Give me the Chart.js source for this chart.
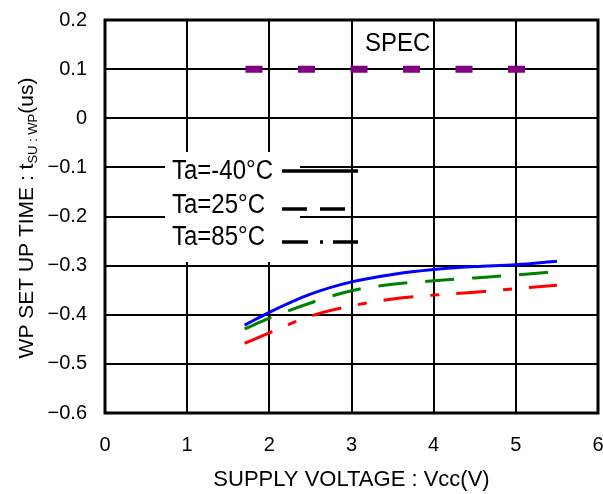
<!DOCTYPE html>
<html>
<head>
<meta charset="utf-8">
<script src="https://cdn.jsdelivr.net/npm/chart.js@4.4.1/dist/chart.umd.min.js"></script>
<style>
  html, body { margin: 0; padding: 0; background: #fff; }
  #wrap { width: 603px; height: 494px; }
</style>
</head>
<body>
<div id="wrap"><canvas id="wpChart" width="603" height="494"></canvas></div>
<script>
// supply voltage (V) where the curves were read
const voltage = [1.7, 2.0, 2.5, 3.0, 3.5, 4.0, 4.5, 5.0, 5.5];

// set up time (us) per temperature
const tsuMinus40 = [-0.421, -0.395, -0.358, -0.333, -0.318, -0.308, -0.302, -0.298, -0.291];
const tsu25 = [-0.429, -0.407, -0.376, -0.351, -0.338, -0.331, -0.325, -0.319, -0.312];
const tsu85 = [-0.458, -0.437, -0.403, -0.382, -0.368, -0.360, -0.354, -0.347, -0.340];

// spec limit line
const specVoltage = [1.71, 5.12];
const specValue = [0.1, 0.1];

const xTickLabels = ['0', '1', '2', '3', '4', '5', '6'];
const yTickLabels = ['\u22120.6', '\u22120.5', '\u22120.4', '\u22120.3', '\u22120.2', '\u22120.1', '0', '0.1', '0.2'];

const legendLabels = ['Ta=-40\u00B0C', 'Ta=25\u00B0C', 'Ta=85\u00B0C'];

const textFont = "'Liberation Sans', Arial, sans-serif";

function toPoints(xs, ys) {
    return xs.map((x, i) => ({ x: x, y: ys[i] }));
}

// frame around the plot + legend box + SPEC text + y title with subscript
const decorPlugin = {
    id: 'decor',
    beforeDatasetsDraw(chart) {
        const ctx = chart.ctx;
        ctx.save();
        ctx.fillStyle = '#fff';
        ctx.fillRect(165, 152, 135, 110);
        ctx.restore();
    },
    afterDatasetsDraw(chart) {
        const ctx = chart.ctx;
        const a = chart.chartArea;
        ctx.save();

        // frame
        ctx.strokeStyle = '#000';
        ctx.lineWidth = 3;
        ctx.strokeRect(a.left, a.top, a.right - a.left, a.bottom - a.top);

        // legend texts (slightly stretched, like the original bitmap font)
        ctx.fillStyle = '#000';
        ctx.font = '24px ' + textFont;
        ctx.textBaseline = 'alphabetic';
        const baselines = [179, 213, 245];
        legendLabels.forEach((txt, i) => {
            ctx.save();
            ctx.translate(172, baselines[i]);
            ctx.scale(1, 1.15);
            ctx.fillText(txt, 0, 0);
            ctx.restore();
        });

        // legend samples
        ctx.strokeStyle = '#000';
        ctx.lineWidth = 3.5;
        ctx.lineCap = 'butt';
        const samples = [
            { y: 171, dash: [], end: 358 },
            { y: 209, dash: [25, 13], end: 345 },
            { y: 242, dash: [26, 12, 3, 10], end: 358 }
        ];
        samples.forEach(s => {
            ctx.setLineDash(s.dash);
            ctx.beginPath();
            ctx.moveTo(282, s.y);
            ctx.lineTo(s.end, s.y);
            ctx.stroke();
        });
        ctx.setLineDash([]);

        // SPEC label
        ctx.save();
        ctx.translate(365, 51);
        ctx.scale(1, 1.1);
        ctx.font = '24px ' + textFont;
        ctx.fillText('SPEC', 0, 0);
        ctx.restore();

        // y axis title with subscript
        ctx.save();
        ctx.translate(33, 218);
        ctx.rotate(-Math.PI / 2);
        const mainFont = '21px ' + textFont;
        const subFont = '13px ' + textFont;
        const parts = [
            { t: 'WP SET UP TIME : t', f: mainFont, dy: 0 },
            { t: 'SU : WP', f: subFont, dy: 4 },
            { t: '(us)', f: mainFont, dy: 0 }
        ];
        let total = 0;
        parts.forEach(p => { ctx.font = p.f; p.w = ctx.measureText(p.t).width; total += p.w; });
        let x = -total / 2;
        parts.forEach(p => {
            ctx.font = p.f;
            ctx.fillText(p.t, x, p.dy);
            x += p.w;
        });
        ctx.restore();

        ctx.restore();
    }
};

const chart = new Chart(document.getElementById('wpChart'), {
    type: 'line',
    data: {
        datasets: [
            {
                label: 'SPEC',
                data: toPoints(specVoltage, specValue),
                borderColor: '#800080',
                borderWidth: 7,
                borderDash: [17, 35.5],
                borderCapStyle: 'butt',
                pointRadius: 0,
                fill: false
            },
            {
                label: legendLabels[2],
                data: toPoints(voltage, tsu85),
                borderColor: '#ff0000',
                borderWidth: 3,
                borderDash: [30, 17, 9, 17],
                pointRadius: 0,
                cubicInterpolationMode: 'monotone',
                fill: false
            },
            {
                label: legendLabels[1],
                data: toPoints(voltage, tsu25),
                borderColor: '#008000',
                borderWidth: 3,
                borderDash: [29, 18],
                pointRadius: 0,
                cubicInterpolationMode: 'monotone',
                fill: false
            },
            {
                label: legendLabels[0],
                data: toPoints(voltage, tsuMinus40),
                borderColor: '#0000ff',
                borderWidth: 3,
                pointRadius: 0,
                cubicInterpolationMode: 'monotone',
                fill: false
            }
        ]
    },
    options: {
        responsive: false,
        animation: false,
        devicePixelRatio: 1,
        layout: { padding: { top: 20, right: 5, left: 0, bottom: 0 } },
        plugins: {
            legend: { display: false },
            tooltip: { enabled: false }
        },
        scales: {
            x: {
                type: 'linear',
                min: 0,
                max: 6,
                afterFit(scale) {
                    scale.height = 81;
                    scale.paddingLeft = 0;
                    scale.paddingRight = 0;
                },
                ticks: {
                    stepSize: 1,
                    padding: 20,
                    color: '#000',
                    font: { family: textFont, size: 20 },
                    maxRotation: 0,
                    callback: (v, i) => xTickLabels[i]
                },
                grid: { color: '#000', lineWidth: 2, drawTicks: false },
                border: { display: false },
                title: {
                    display: true,
                    text: 'SUPPLY VOLTAGE : Vcc(V)',
                    color: '#000',
                    font: { family: textFont, size: 22 },
                    padding: { top: 0, bottom: 1 }
                }
            },
            y: {
                type: 'linear',
                min: -0.6,
                max: 0.2,
                afterFit(scale) {
                    scale.width = 105;
                    scale.paddingTop = 0;
                    scale.paddingBottom = 0;
                },
                ticks: {
                    stepSize: 0.1,
                    padding: 18,
                    color: '#000',
                    font: { family: textFont, size: 20 },
                    callback: (v, i) => yTickLabels[i]
                },
                grid: { color: '#000', lineWidth: 2, drawTicks: false },
                border: { display: false }
            }
        }
    },
    plugins: [decorPlugin]
});
</script>
</body>
</html>
